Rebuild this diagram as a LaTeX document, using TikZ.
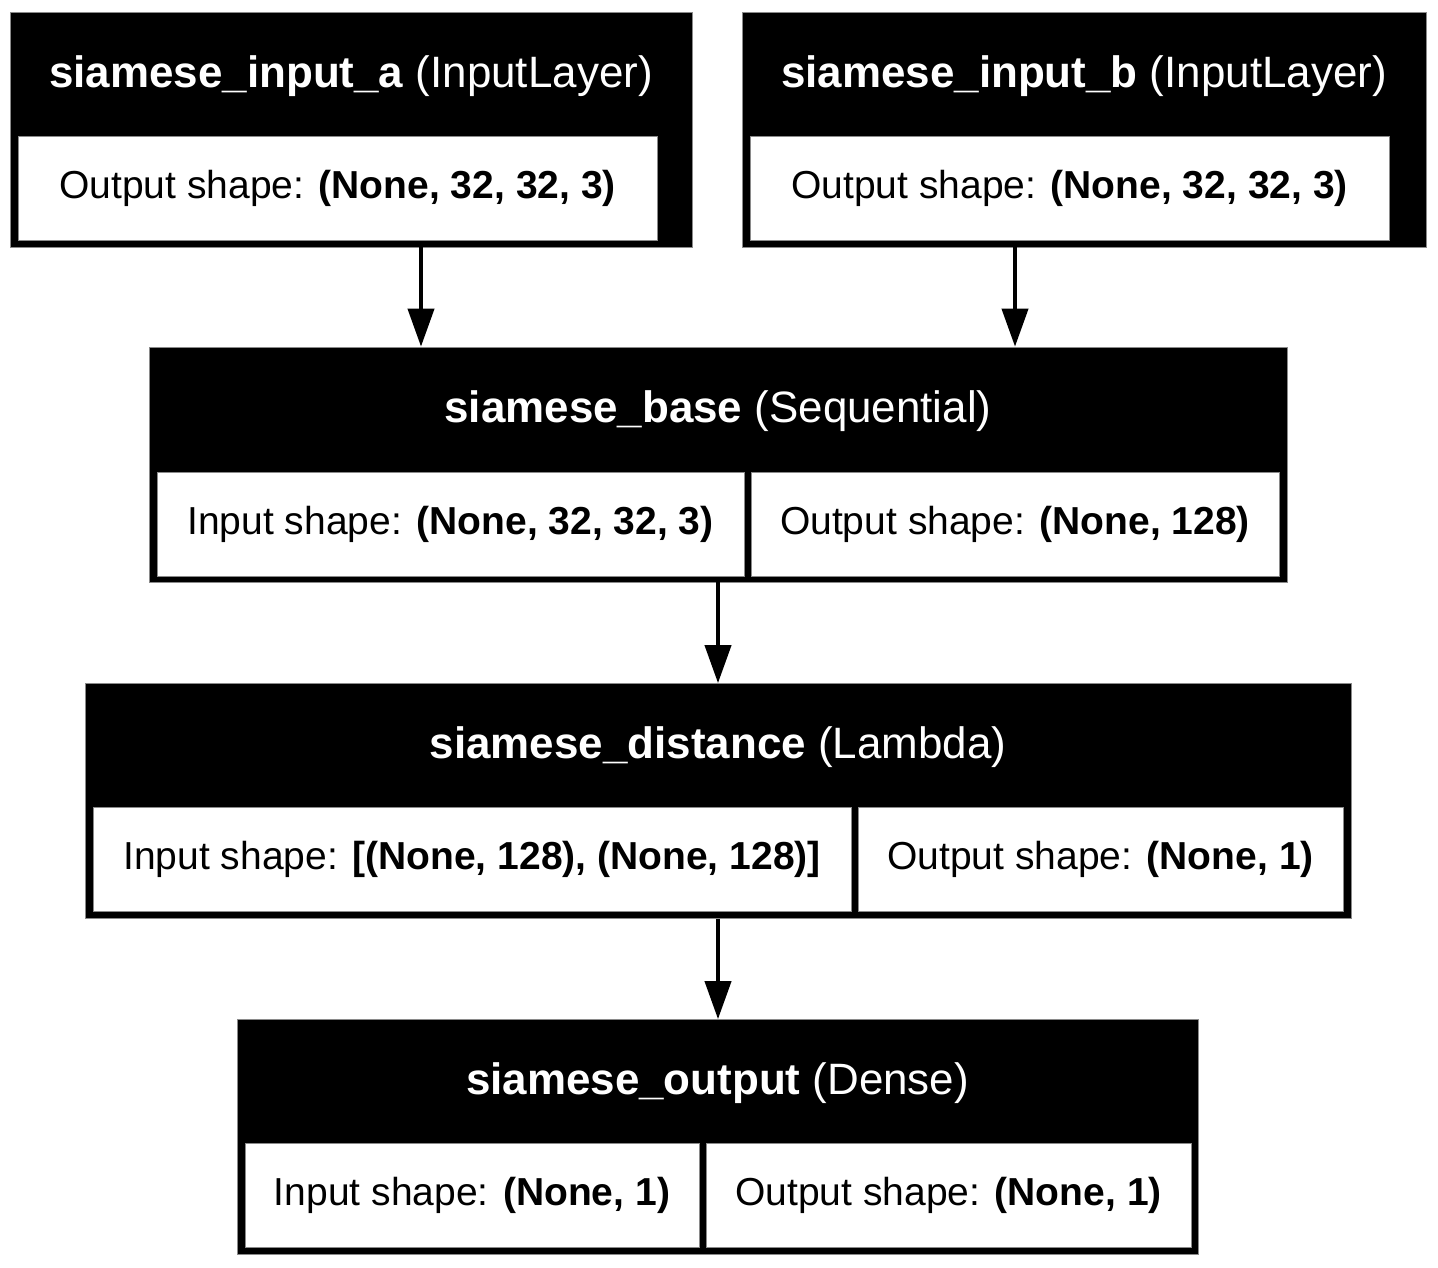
\documentclass[tikz,border=0pt]{standalone}
\usepackage{fontspec}
\setmainfont{Liberation Sans}
\usepackage{xcolor}
\usepackage{tikz}
\usetikzlibrary{arrows.meta, positioning, calc}
\definecolor{kedge}{HTML}{8A8A8A}

\tikzset{
  layerbox/.style={fill=black, draw=kedge, line width=0.4pt, minimum height=4.70cm, inner sep=0pt},
  titletxt/.style={text=white, font=\fontsize{25}{30}\selectfont, inner sep=0pt},
  shapebox/.style={fill=white, draw=kedge, line width=0.4pt, minimum height=2.08cm, inner sep=0pt,
    font=\fontsize{22.2}{27}\selectfont},
  flow/.style={line width=2.3pt, -{Triangle[length=0.76cm, width=0.52cm]}}
}

\begin{document}
\begin{tikzpicture}[x=1cm, y=1cm]
\fill[white] (0,0) rectangle (28.76,25.34);
\useasboundingbox (0,0) rectangle (28.76,25.34);
% input a
\node[layerbox, minimum width=13.64cm] (ina) at (7.02,22.75) {};
\node[titletxt] (ina-t) at (7.02,23.82) {\textbf{siamese\_input\_a} (InputLayer)};
\node[shapebox, minimum width=12.78cm] (ina-o) at (6.75,21.57) {Output shape: \textbf{(None, 32, 32, 3)}};
% input b
\node[layerbox, minimum width=13.68cm] (inb) at (21.68,22.75) {};
\node[titletxt] (inb-t) at (21.68,23.82) {\textbf{siamese\_input\_b} (InputLayer)};
\node[shapebox, minimum width=12.78cm] (inb-o) at (21.39,21.57) {Output shape: \textbf{(None, 32, 32, 3)}};
% base
\node[layerbox, minimum width=22.76cm] (base) at (14.36,16.05) {};
\node[titletxt] (base-t) at (14.36,17.12) {\textbf{siamese\_base} (Sequential)};
\node[shapebox, minimum width=11.74cm] (base-i) at (9.01,14.86) {Input shape: \textbf{(None, 32, 32, 3)}};
\node[shapebox, minimum width=10.56cm] (base-o) at (20.30,14.86) {Output shape: \textbf{(None, 128)}};
% distance
\node[layerbox, minimum width=25.32cm] (dist) at (14.36,9.32) {};
\node[titletxt] (dist-t) at (14.36,10.40) {\textbf{siamese\_distance} (Lambda)};
\node[shapebox, minimum width=15.16cm] (dist-i) at (9.44,8.15) {Input shape: \textbf{[(None, 128), (None, 128)]}};
\node[shapebox, minimum width=9.70cm] (dist-o) at (22.01,8.15) {Output shape: \textbf{(None, 1)}};
% output
\node[layerbox, minimum width=19.22cm] (out) at (14.35,2.60) {};
\node[titletxt] (out-t) at (14.35,3.68) {\textbf{siamese\_output} (Dense)};
\node[shapebox, minimum width=9.08cm] (out-i) at (9.44,1.43) {Input shape: \textbf{(None, 1)}};
\node[shapebox, minimum width=9.70cm] (out-o) at (18.97,1.43) {Output shape: \textbf{(None, 1)}};
% edges
\draw[flow] ([xshift=1.40cm]ina.south) -- ([xshift=1.40cm]ina.south |- base.north);
\draw[flow] ([xshift=-1.38cm]inb.south) -- ([xshift=-1.38cm]inb.south |- base.north);
\draw[flow] (base.south) -- (dist.north);
\draw[flow] (dist.south) -- (dist.south |- out.north);
\end{tikzpicture}
\end{document}
